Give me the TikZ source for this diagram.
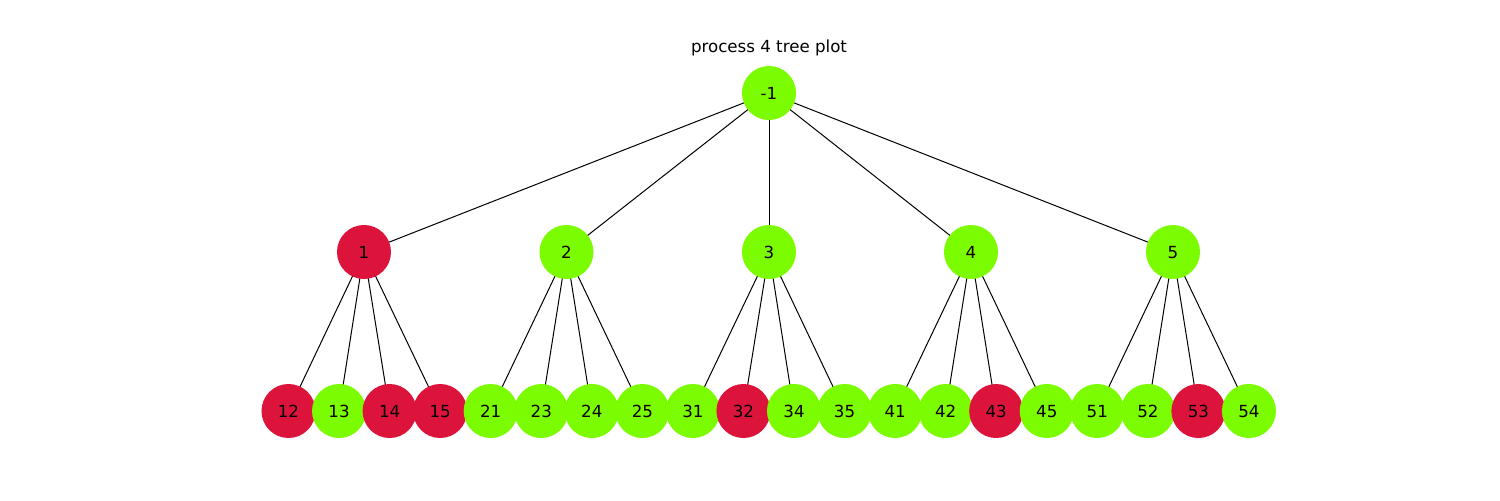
\documentclass[tikz,border=0pt]{standalone}
\usepackage{fontspec}
\setmainfont{DejaVu Sans}
\usetikzlibrary{backgrounds}
\definecolor{lgreen}{HTML}{7CFC00}
\definecolor{crim}{HTML}{DC143C}
\begin{document}
\begin{tikzpicture}[x=0.72pt,y=-0.72pt,
  vert/.style={circle,minimum size=38.9pt,inner sep=0pt,text height=8.8pt,text depth=0pt,
    font=\fontsize{12}{14}\selectfont},
  ok/.style={vert,fill=lgreen},
  bad/.style={vert,fill=crim},
  edge/.style={draw=black,line width=0.72pt}]
\useasboundingbox (0,0) rectangle (1500,500);
\node[font=\fontsize{12}{14}\selectfont] (title) at (769,48) {process 4 tree plot};
% vertex positions
\coordinate (p-1) at (769,93);
\foreach \n/\x in {1/364,2/566.5,3/769,4/971,5/1173}{\coordinate (p\n) at (\x,252);}
\foreach \n [count=\i from 0] in {12,13,14,15,21,23,24,25,31,32,34,35,41,42,43,45,51,52,53,54}{
  \coordinate (p\n) at ({288.5+\i*50.55},411);}
% vertices, in drawing order (later ones overlap earlier ones)
\foreach \n/\s in {-1/ok,1/bad,2/ok,3/ok,4/ok,5/ok,12/bad,13/ok,14/bad,15/bad,21/ok,23/ok,24/ok,25/ok,31/ok,32/bad,34/ok,35/ok,41/ok,42/ok,43/bad,45/ok,51/ok,52/ok,53/bad,54/ok}{
  \node[\s] (n\n) at (p\n) {\n};}
% edges, centre to centre, beneath the vertices
\begin{scope}[on background layer]
\foreach \c in {1,2,3,4,5}{\draw[edge] (n-1.center) -- (n\c.center);}
\foreach \up/\kids in {1/{12,13,14,15},2/{21,23,24,25},3/{31,32,34,35},4/{41,42,43,45},5/{51,52,53,54}}{
  \foreach \k in \kids {\draw[edge] (n\up.center) -- (n\k.center);}}
\end{scope}
\end{tikzpicture}
\end{document}
